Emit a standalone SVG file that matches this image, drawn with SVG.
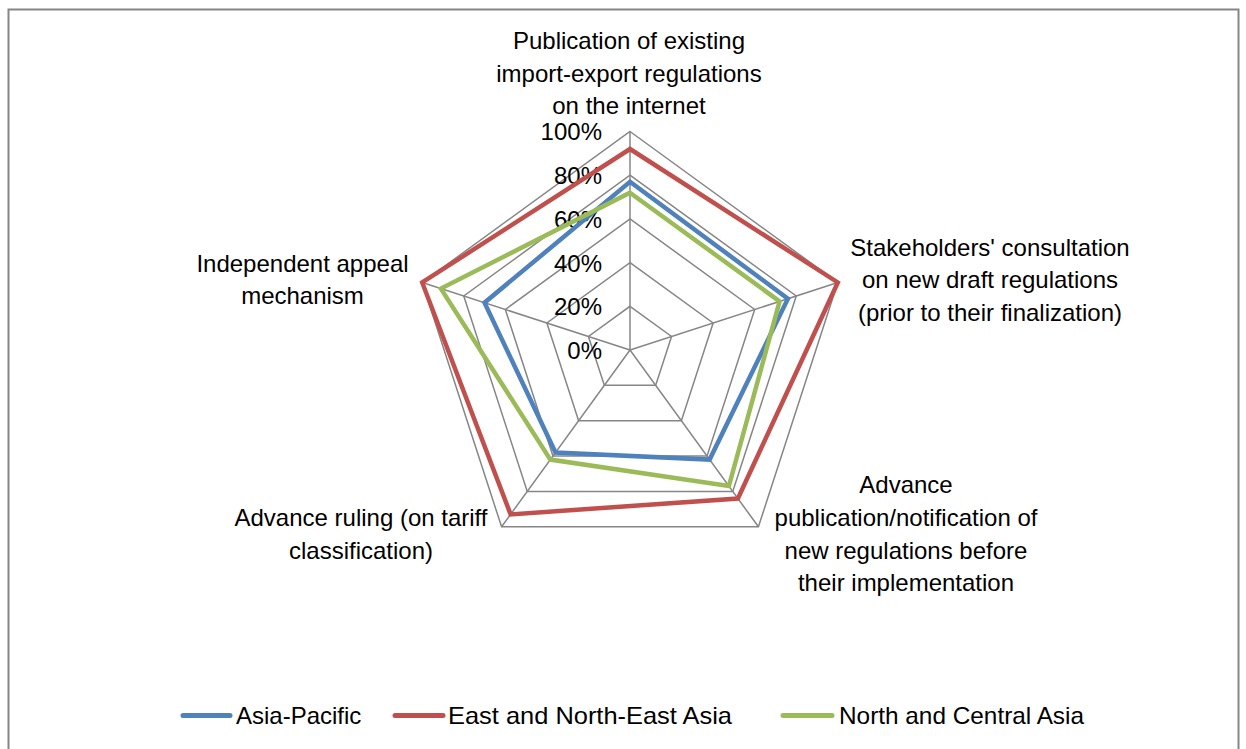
<svg xmlns="http://www.w3.org/2000/svg" width="1246" height="749" viewBox="0 0 1246 749">
  <style>
    text { font-family: "Liberation Sans", Arial, sans-serif; font-size: 24px; fill: #000; }
    .mid { text-anchor: middle; }
    .end { text-anchor: end; }
    .grid { fill: none; stroke: #868686; stroke-width: 1.5; }
    .series { fill: none; stroke-width: 4.5; stroke-linejoin: miter; }
    .ap { stroke: #4F81BD; }
    .ene { stroke: #C0504D; }
    .nca { stroke: #9BBB59; }
    .key { stroke-width: 5; stroke-linecap: round; }
  </style>

  <rect x="0" y="0" width="1246" height="749" fill="#fff"/>
  <!-- chart area frame -->
  <rect x="8.5" y="9.5" width="1230" height="760" fill="none" stroke="#868686" stroke-width="2"/>

  <!-- radar grid: centre (630,350), radius 218.5 -->
  <g id="grid">
    <polygon class="grid" points="630,131.5 837.81,282.48 758.43,526.77 501.57,526.77 422.19,282.48"/>
    <polygon class="grid" points="630,175.2 796.24,295.98 732.75,491.42 527.25,491.42 463.76,295.98"/>
    <polygon class="grid" points="630,218.9 754.68,309.49 707.06,456.06 552.94,456.06 505.32,309.49"/>
    <polygon class="grid" points="630,262.6 713.12,322.99 681.37,420.71 578.63,420.71 546.88,322.99"/>
    <polygon class="grid" points="630,306.3 671.56,336.5 655.69,385.35 604.31,385.35 588.44,336.5"/>
    <path class="grid" d="M630,350 L630,131.5 M630,350 L837.81,282.48 M630,350 L758.43,526.77 M630,350 L501.57,526.77 M630,350 L422.19,282.48"/>
  </g>

  <!-- scale labels -->
  <g id="scale">
    <text class="end" x="602" y="140">100%</text>
    <text class="end" x="602" y="184">80%</text>
    <text class="end" x="602" y="228">60%</text>
    <text class="end" x="602" y="272">40%</text>
    <text class="end" x="602" y="315">20%</text>
    <text class="end" x="602" y="359">0%</text>
  </g>

  <!-- data series -->
  <g id="connectors">
    <polygon id="series-asia-pacific" class="series ap" points="630,181.8 787.9,298.7 709.6,459.6 555.5,452.5 484.5,302.7"/>
    <polygon id="series-east-north-east-asia" class="series ene" points="630,149 837.81,282.48 737.9,498.5 510.6,514.4 422.19,282.48"/>
    <polygon id="series-north-central-asia" class="series nca" points="630,192.7 779.6,301.4 728.9,486.1 550.4,459.6 440.9,288.6"/>
  </g>

  <!-- axis category labels -->
  <g id="axis-publication">
    <text class="mid" x="629" y="49">Publication of existing</text>
    <text class="mid" x="629" y="81.5">import-export regulations</text>
    <text class="mid" x="629" y="114">on the internet</text>
  </g>
  <g id="axis-consultation">
    <text class="mid" x="990" y="255.5">Stakeholders' consultation</text>
    <text class="mid" x="990" y="288">on new draft regulations</text>
    <text class="mid" x="990" y="320.5">(prior to their finalization)</text>
  </g>
  <g id="axis-advance-publication">
    <text class="mid" x="906" y="493">Advance</text>
    <text class="mid" x="906" y="526">publication/notification of</text>
    <text class="mid" x="906" y="558.5">new regulations before</text>
    <text class="mid" x="906" y="591">their implementation</text>
  </g>
  <g id="axis-advance-ruling">
    <text class="mid" x="361" y="526">Advance ruling (on tariff</text>
    <text class="mid" x="361" y="558.5">classification)</text>
  </g>
  <g id="axis-appeal">
    <text class="mid" x="302.5" y="271.5">Independent appeal</text>
    <text class="mid" x="302.5" y="303.5">mechanism</text>
  </g>

  <!-- legend -->
  <g id="legend">
    <line class="key ap" x1="183" y1="715.5" x2="230" y2="715.5"/>
    <text x="236" y="723.5">Asia-Pacific</text>
    <line class="key ene" x1="395" y1="715.5" x2="443" y2="715.5"/>
    <text x="448" y="723.5" textLength="284" lengthAdjust="spacingAndGlyphs">East and North-East Asia</text>
    <line class="key nca" x1="783" y1="715.5" x2="832" y2="715.5"/>
    <text x="839" y="723.5" textLength="245" lengthAdjust="spacingAndGlyphs">North and Central Asia</text>
  </g>
</svg>
